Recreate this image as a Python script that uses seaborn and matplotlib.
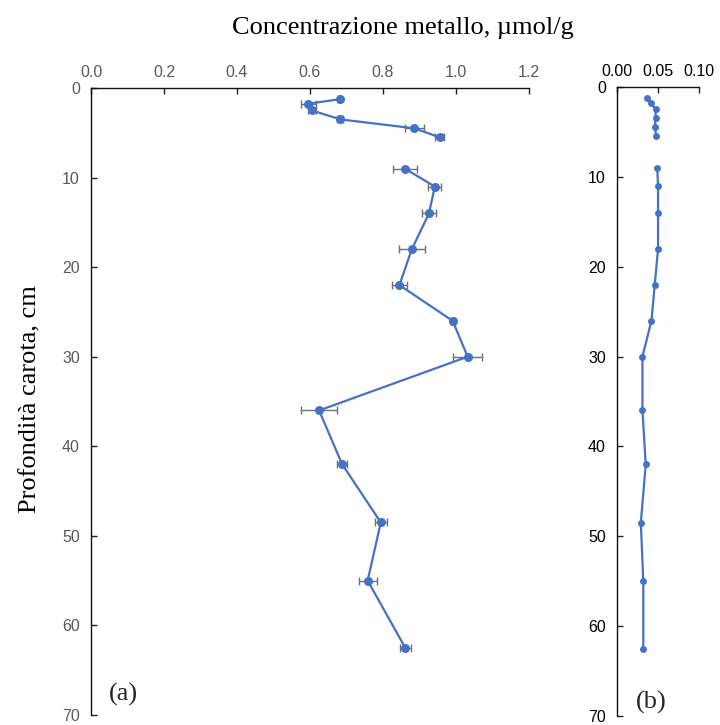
import numpy as np
import pandas as pd
import matplotlib
matplotlib.use("Agg")
import matplotlib.pyplot as plt
import seaborn as sns

# Core depths (cm) shared by both profiles
depth = [1.25, 1.75, 2.5, 3.5, 4.5, 5.5, 9, 11, 14, 18, 22, 26, 30, 36, 42, 48.5, 55, 62.5]
# Panel (a): metal concentration (umol/g) with standard deviation
conc_a = [0.682, 0.595, 0.605, 0.683, 0.886, 0.955, 0.860, 0.942, 0.926, 0.879,
          0.845, 0.991, 1.032, 0.625, 0.688, 0.794, 0.758, 0.861]
err_a = [0.004, 0.021, 0.011, 0.008, 0.027, 0.013, 0.032, 0.018, 0.020, 0.035,
         0.020, 0.006, 0.039, 0.049, 0.014, 0.016, 0.025, 0.015]
# Panel (b): second metal concentration (umol/g)
conc_b = [0.036, 0.041, 0.047, 0.047, 0.046, 0.048, 0.049, 0.050, 0.050, 0.050,
          0.046, 0.042, 0.031, 0.031, 0.035, 0.029, 0.032, 0.032]
# Upper and lower sections of the core are drawn as separate line segments
segment = ["top"] * 6 + ["bottom"] * 12

xticks_a = [0.0, 0.2, 0.4, 0.6, 0.8, 1.0, 1.2]
xticks_b = [0.00, 0.05, 0.10]
yticks = [0, 10, 20, 30, 40, 50, 60, 70]

df = pd.DataFrame({"depth": depth, "a": conc_a, "err": err_a, "b": conc_b, "seg": segment})

sns.set_theme(style="white")
plt.rcParams["font.family"] = ["Liberation Sans", "DejaVu Sans"]

BLUE = "#4472C4"
SERIF = ["Liberation Serif", "DejaVu Serif"]

fig = plt.figure(figsize=(7.2, 7.25), dpi=100)
ax_a = fig.add_axes([0.1264, 0.0138, 0.6083, 0.8648])
ax_b = fig.add_axes([0.857, 0.0124, 0.1139, 0.8676])


def style_axis(ax, xlim, xticks, fmt, tick_color):
    ax.set_xlim(*xlim)
    ax.set_ylim(70, 0)
    ax.set_xticks(xticks)
    ax.set_xticklabels([fmt.format(v) for v in xticks])
    ax.set_yticks(yticks)
    ax.xaxis.tick_top()
    ax.tick_params(axis="both", direction="in", length=4, width=1, color="#222222",
                   labelsize=11.5, labelcolor=tick_color)
    ax.tick_params(axis="x", pad=6, top=True, bottom=False)
    ax.tick_params(axis="y", pad=8, left=True)
    for side in ("right", "bottom"):
        ax.spines[side].set_visible(False)
    for side in ("top", "left"):
        ax.spines[side].set_color("#111111")
        ax.spines[side].set_linewidth(1.0)
    ax.set_xlabel("")
    ax.set_ylabel("")


# Panel (a) with error bars
ax_a.errorbar(df["a"], df["depth"], xerr=df["err"], fmt="none", ecolor="#707070",
              elinewidth=1.0, capsize=3, capthick=1.0, zorder=1)
sns.lineplot(data=df, x="a", y="depth", units="seg", estimator=None, sort=False,
             color=BLUE, lw=1.6, marker="o", markersize=6.5, markeredgewidth=0,
             ax=ax_a, zorder=3)
style_axis(ax_a, (0, 1.2), xticks_a, "{:.1f}", "#595959")

# Panel (b)
sns.lineplot(data=df, x="b", y="depth", units="seg", estimator=None, sort=False,
             color=BLUE, lw=1.6, marker="o", markersize=5, markeredgewidth=0,
             ax=ax_b, zorder=3)
style_axis(ax_b, (0, 0.10), xticks_b, "{:.2f}", "#000000")

fig.text(0.56, 0.962, "Concentrazione metallo, \u00b5mol/g", ha="center", va="center",
         fontsize=19, family=SERIF, color="black")
fig.text(0.042, 0.45, "Profondità carota, cm", ha="center", va="center", rotation=90,
         fontsize=19, family=SERIF, color="black")
ax_a.text(0.075, 0.033, "(a)", transform=ax_a.transAxes, ha="center", va="center",
          fontsize=19, family=SERIF)
ax_b.text(0.42, 0.022, "(b)", transform=ax_b.transAxes, ha="center", va="center",
          fontsize=19, family=SERIF)

fig.savefig("out.png", dpi=100)
